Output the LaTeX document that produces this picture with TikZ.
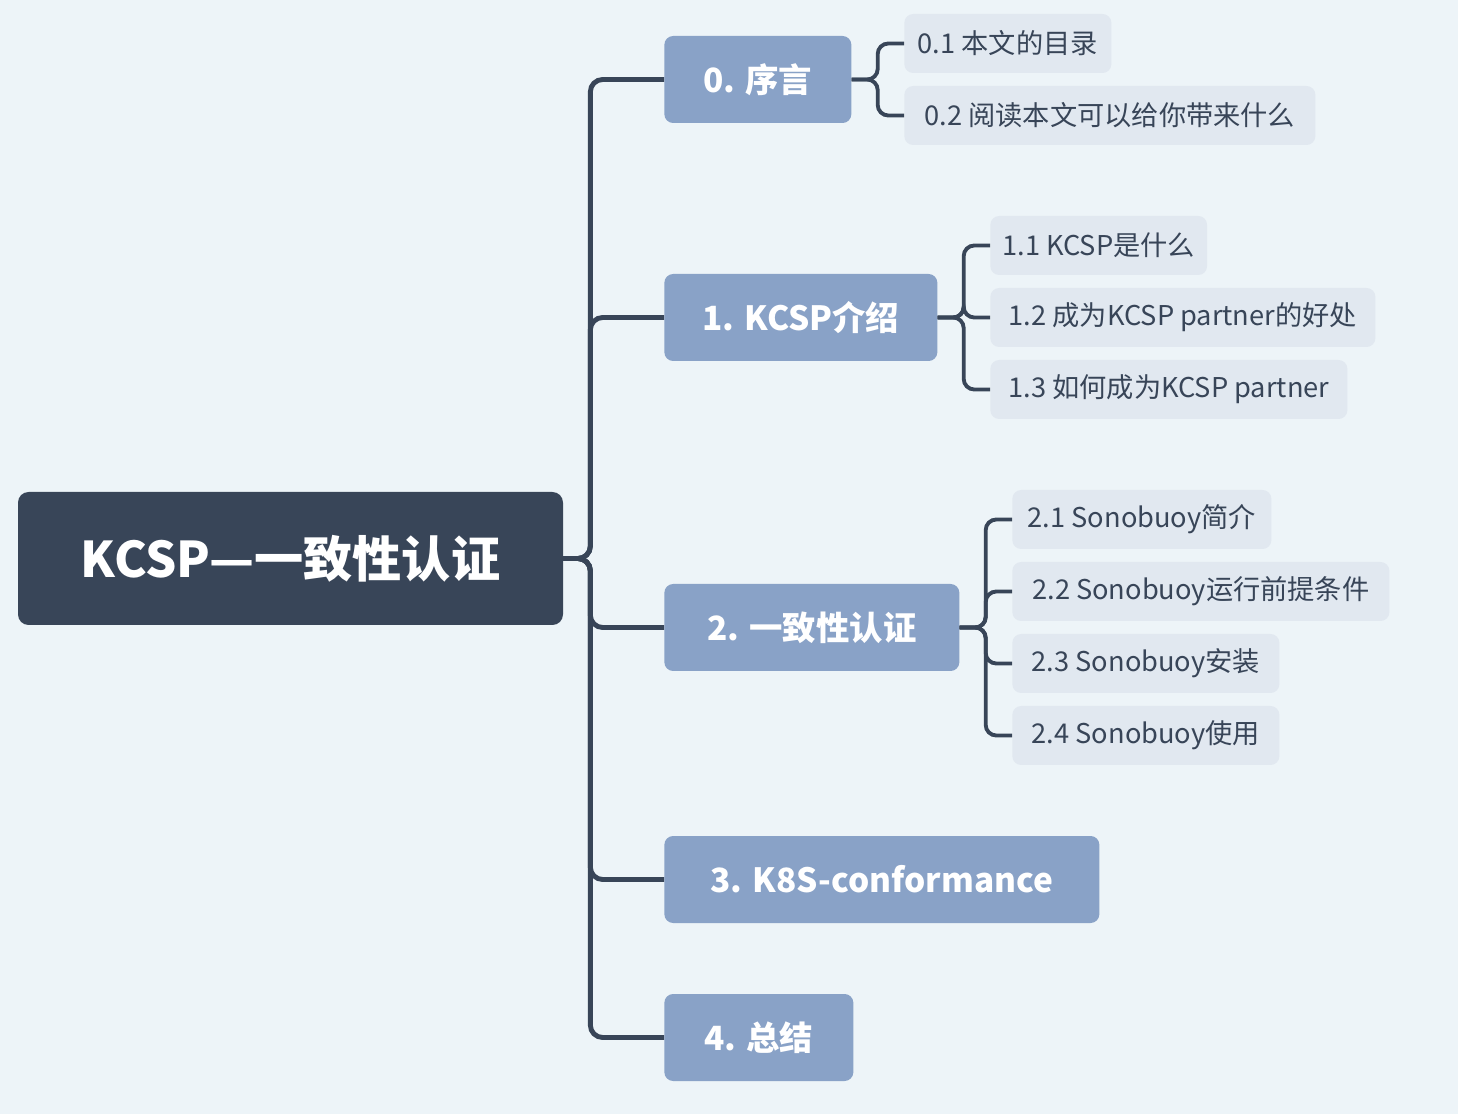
\documentclass[tikz,border=0pt]{standalone}
\usepackage{fontspec}
\setmainfont{Noto Sans CJK SC}
\usepackage{tikz}

\definecolor{bgc}{HTML}{EDF4F8}
\definecolor{rootc}{HTML}{384558}
\definecolor{subc}{HTML}{89A2C7}
\definecolor{leafc}{HTML}{E1E8F0}

\tikzset{
  root/.style={fill=rootc, text=white, rounded corners=6pt, font=\fontsize{28}{32}\selectfont\bfseries,
    minimum width=545*0.02cm, minimum height=133*0.02cm, inner sep=0pt},
  sub/.style={fill=subc, text=white, rounded corners=5pt, font=\fontsize{19}{22}\selectfont\bfseries,
    minimum height=87*0.02cm, inner xsep=37*0.02cm, inner ysep=0pt, anchor=west},
  leaf/.style={fill=leafc, text=rootc, rounded corners=5pt, font=\fontsize{15.5}{18}\selectfont,
    minimum height=59*0.02cm, inner xsep=12*0.02cm, inner ysep=0pt, anchor=west},
  wd/.style={minimum width=#1*0.02cm},
  trunk/.style={draw=rootc, line width=2.8pt, rounded corners=7pt},
  twig/.style={draw=rootc, line width=2.2pt, rounded corners=6pt},
}

\begin{document}
\begin{tikzpicture}[x=0.02cm, y=-0.02cm]
\fill[bgc] (0,0) rectangle (1458,1114);
\useasboundingbox (0,0) rectangle (1458,1114);

\node[root] (r) at (290.5,558.5) {KCSP—一致性认证};

\node[sub, wd=187] (b0) at (664,79.5) {0. 序言};
\node[sub, wd=273] (b1) at (664,317.5) {1. KCSP介绍};
\node[sub, wd=295] (b2) at (664,627.5) {2. 一致性认证};
\node[sub, wd=435] (b3) at (664,879.5) {3. K8S-conformance};
\node[sub, wd=189] (b4) at (664,1037.5) {4. 总结};

\node[leaf, wd=207] (l01) at (904,43.5) {0.1 本文的目录};
\node[leaf, wd=411] (l02) at (904,115.5) {0.2 阅读本文可以给你带来什么};
\node[leaf, wd=215] (l11) at (990,245.5) {1.1 KCSP是什么};
\node[leaf, wd=385] (l12) at (990,317.5) {1.2 成为KCSP partner的好处};
\node[leaf, wd=357] (l13) at (990,389.5) {1.3 如何成为KCSP partner};
\node[leaf, wd=259] (l21) at (1012,519.5) {2.1 Sonobuoy简介};
\node[leaf, wd=377] (l22) at (1012,591.5) {2.2 Sonobuoy运行前提条件};
\node[leaf, wd=267] (l23) at (1012,663.5) {2.3 Sonobuoy安装};
\node[leaf, wd=267] (l24) at (1012,735.5) {2.4 Sonobuoy使用};

\foreach \b in {b0,b1,b2,b3,b4}
  \draw[trunk] (r.east) -- ++(27,0) |- (\b.west);

\foreach \l in {l01,l02}
  \draw[twig] (b0.east) -- ++(26,0) |- (\l.west);
\foreach \l in {l11,l12,l13}
  \draw[twig] (b1.east) -- ++(26,0) |- (\l.west);
\foreach \l in {l21,l22,l23,l24}
  \draw[twig] (b2.east) -- ++(26,0) |- (\l.west);
\end{tikzpicture}
\end{document}
